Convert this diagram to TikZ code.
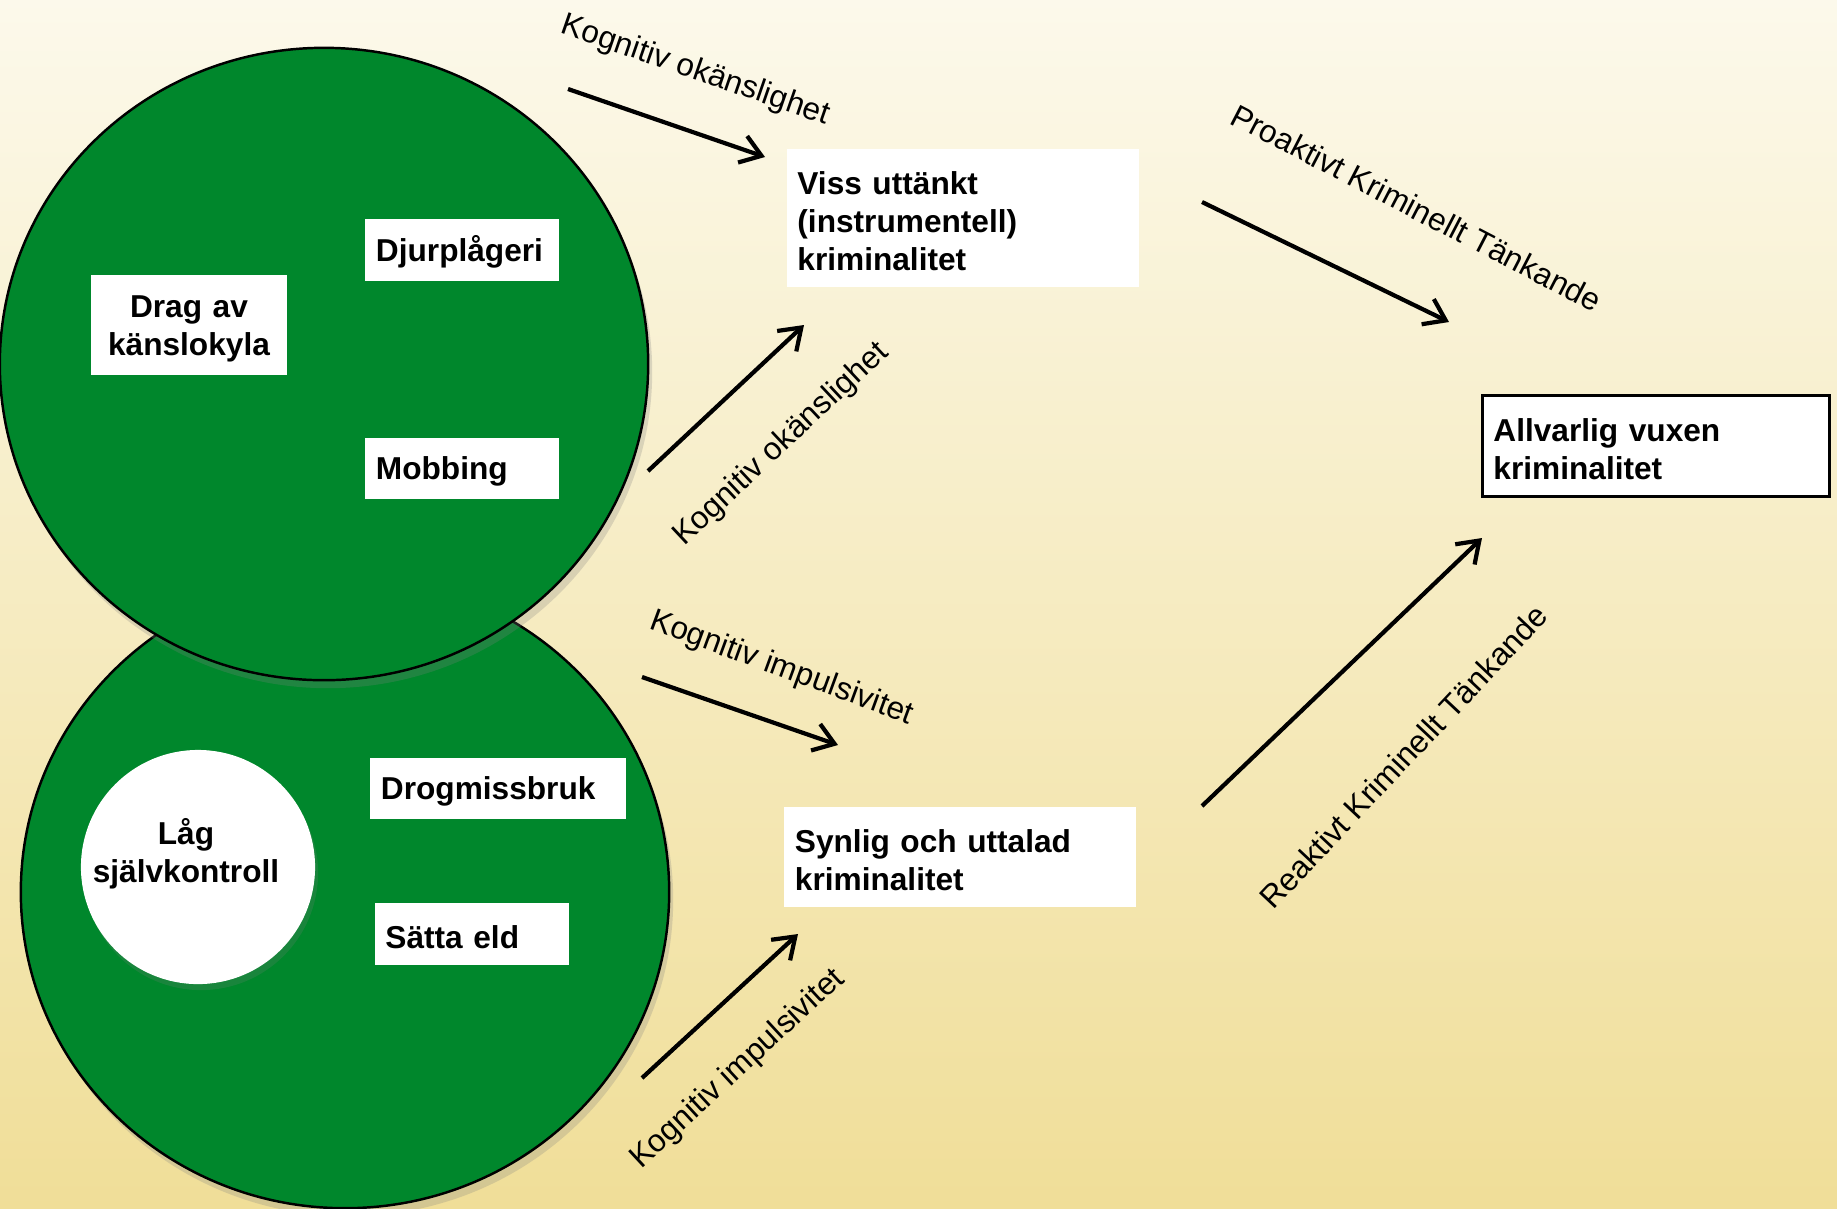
\documentclass[tikz,border=0pt]{standalone}
\usepackage{fontspec}
\setmainfont{Liberation Sans}
\usetikzlibrary{arrows.meta,shapes.geometric,shadows}

\definecolor{blobgreen}{RGB}{0,135,44}
\definecolor{bgtop}{RGB}{252,249,235}
\definecolor{bgbottom}{RGB}{240,222,152}

\tikzset{
  blob/.style={ellipse, draw=black, line width=0.7pt, fill=blobgreen,
    minimum width=6.48cm, minimum height=6.32cm,
    drop shadow={opacity=0.25, shadow xshift=0.4mm, shadow yshift=-0.8mm}},
  wbox/.style={fill=white, inner sep=3pt, align=left,
    font=\fontsize{9}{10.9}\bfseries\selectfont,
    execute at begin node={\rule{0pt}{8.4pt}}},
  lbl/.style={font=\fontsize{9}{10.9}\selectfont, sloped},
  arr/.style={-{Straight Barb[length=2mm,width=2.8mm]}, line width=1.2pt},
}

\begin{document}
\begin{tikzpicture}[x=0.01cm, y=-0.01cm]
  \shade[top color=bgtop, bottom color=bgbottom] (0,0) rectangle (1837,1208);
  \useasboundingbox (0,0) rectangle (1837,1208);

  % the two circles
  \node[blob] (lower) at (345,892) {};
  \node[blob] (upper) at (324,364) {};
  \node[circle, fill=white, minimum size=2.34cm,
    drop shadow={opacity=0.2, shadow xshift=0.3mm, shadow yshift=-0.6mm}] (lagc) at (198,867) {};

  % boxes in the circles
  \node[wbox, align=center, text width=1.75cm, minimum height=1cm] (drag) at (189,325) {Drag av\\känslokyla};
  \node[wbox, text width=1.72cm, minimum height=0.61cm] (djur) at (462,250) {Djurplågeri};
  \node[wbox, text width=1.72cm, minimum height=0.61cm] (mobb) at (462,468) {Mobbing};
  \node[wbox, text width=2.34cm, minimum height=0.61cm] (drog) at (498,788) {Drogmissbruk};
  \node[wbox, text width=1.73cm, minimum height=0.62cm] (satta) at (472,934) {Sätta eld};
  \node[font=\fontsize{9}{10.9}\bfseries\selectfont, align=center] (lag) at (186,854) {Låg\\självkontroll};

  % boxes on the right
  \node[wbox, text width=3.31cm, minimum height=1.37cm] (viss) at (963,218) {Viss uttänkt\\(instrumentell)\\kriminalitet};
  \node[wbox, text width=3.30cm, minimum height=1cm] (synlig) at (960,857) {Synlig och uttalad\\kriminalitet};
  \node[wbox, draw=black, line width=0.9pt, text width=3.25cm, minimum height=1.01cm] (allv) at (1656,446) {Allvarlig vuxen\\kriminalitet};

  % arrows
  \coordinate (k1a) at (568,89);   \coordinate (k1b) at (765,157);
  \coordinate (k2a) at (648,471);  \coordinate (k2b) at (804,325);
  \coordinate (i1a) at (642,677);  \coordinate (i1b) at (838,745);
  \coordinate (i2a) at (642,1078); \coordinate (i2b) at (798,934);
  \coordinate (pa) at (1202,202);  \coordinate (pb) at (1449,322);
  \coordinate (ra) at (1202,806);  \coordinate (rb) at (1482,538);

  \draw[arr] (k1a) -- (k1b) node[lbl, pos=0.55, above=0.30cm] (k1t) {Kognitiv okänslighet};
  \draw[arr] (k2a) -- (k2b) node[lbl, pos=0.54, below=0.43cm] (k2t) {Kognitiv okänslighet};
  \draw[arr] (i1a) -- (i1b) node[lbl, pos=0.62, above=0.25cm, rotate=-1] (i1t) {Kognitiv impulsivitet};
  \draw[arr] (i2a) -- (i2b) node[lbl, pos=0.36, below=0.30cm] (i2t) {Kognitiv impulsivitet};
  \draw[arr] (pa) -- (pb) node[lbl, pos=0.71, above=0.63cm, rotate=-1.5] (pt) {Proaktivt Kriminellt Tänkande};
  \draw[arr] (ra) -- (rb) node[lbl, pos=0.46, below=0.78cm, rotate=3] (rt) {Reaktivt Kriminellt Tänkande};
\end{tikzpicture}
\end{document}
